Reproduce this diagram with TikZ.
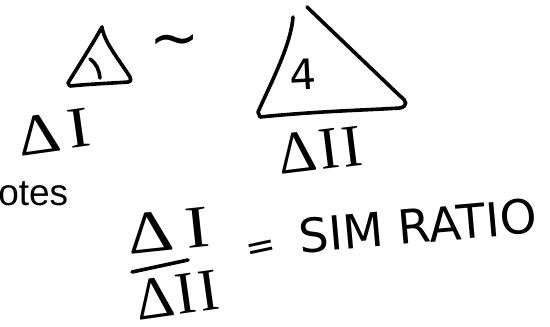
\documentclass[tikz,border=0pt]{standalone}
\usepackage{fontspec}
\setmainfont{Liberation Sans}
\newfontfamily\handsans{DejaVu Sans}
\newfontfamily\handserif{Liberation Serif}
\definecolor{cink}{HTML}{000000}
\tikzset{
  every picture/.style={line width=3.6pt},
  ink/.style={draw=cink, line cap=round, line join=round},
  hand/.style={text=cink, inner sep=0pt, font=\handsans\fontsize{#1}{#1}\selectfont},
  hand/.default=42,
  roman/.style={text=cink, inner sep=0pt, font=\handserif\fontsize{#1}{#1}\selectfont},
  roman/.default=56,
  note/.style={text=cink, inner sep=0pt, font=\fontsize{37}{37}\selectfont},
}

\begin{document}
\begin{tikzpicture}[x=1pt, y=-1pt]
  \useasboundingbox (0,0) rectangle (550,327);
  \draw[ink] (102,27) .. controls (92,45) and (76,70) .. (68,83)
    -- (70,86) .. controls (90,84) and (115,83) .. (128,82)
    .. controls (131,81) .. (130,77) .. controls (118,58) and (104,42) .. (102,27);
  \draw[ink] (90,59) .. controls (97,64) and (99,70) .. (100,78);
  \node[hand=60] (tilde) at (175,47) {∼};
  \draw[ink] (293,17) .. controls (291,45) and (270,85) .. (258,112)
    -- (260,117) .. controls (320,111) and (370,110) .. (400,108)
    .. controls (408,106) and (407,101) .. (400,96) -- (307,7);
  \node[hand=42, rotate=3] (four) at (303,75) {4};
  \node[roman=58, rotate=8] (dI) at (54,132) {\scalebox{1.15}[1]{Δ\kern7pt I}};
  \node[roman=60, rotate=7] (dII) at (320,150) {Δ\kern2pt I\kern3pt I};
  \node[note, anchor=base east] (notes) at (70,205) {otes};
  \node[roman=60, rotate=6] (num) at (168,231) {\scalebox{1.2}[1]{Δ\kern10pt I}};
  \draw[ink] (132,272) -- (188,260);
  \node[roman=60, rotate=8] (den) at (177,295) {Δ\kern2pt I\kern3pt I};
  \node[hand=36, rotate=12] (eq) at (262,250) {=};
  \node[hand=47, rotate=5] (simratio) at (418,226) {SIM RATIO};
\end{tikzpicture}
\end{document}
